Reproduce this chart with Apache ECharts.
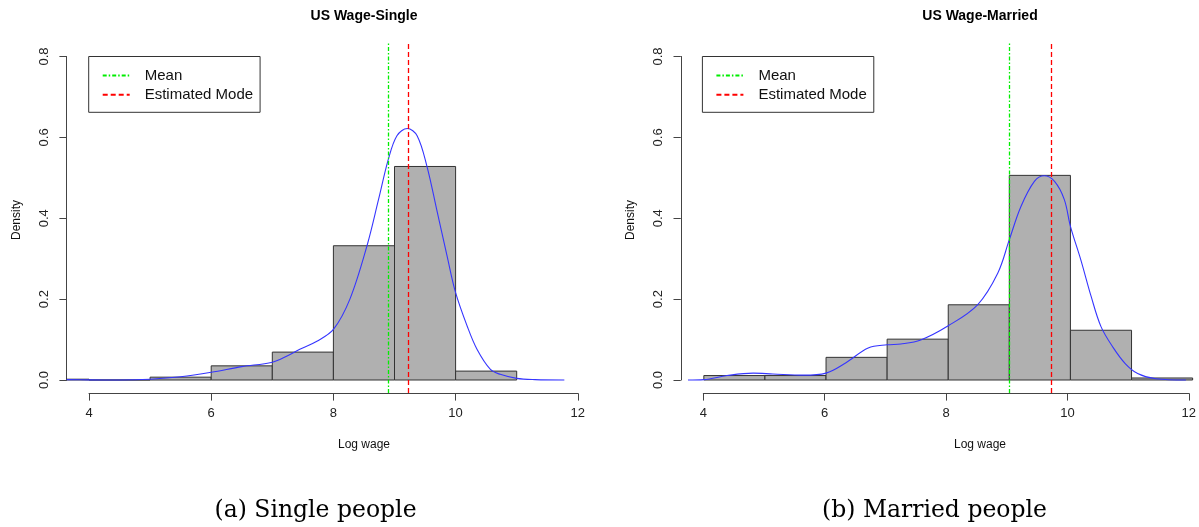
<!DOCTYPE html>
<html><head><meta charset="utf-8">
<script src="https://cdn.jsdelivr.net/npm/echarts@6/dist/echarts.min.js"></script>
<style>html,body{margin:0;padding:0;background:#fff}#c{width:1199px;height:527px}</style>
</head><body><div id="c"></div><script>
// ---- data ----
const binWidth = 1;
const binStartsSingle = [3, 4, 5, 6, 7, 8, 9, 10];
const densitySingle   = [0.002, 0, 0.007, 0.035, 0.069, 0.332, 0.528, 0.022];
const binStartsMarried = [4, 5, 6, 7, 8, 9, 10, 11];
const densityMarried   = [0.011, 0.011, 0.056, 0.101, 0.186, 0.506, 0.123, 0.005];

const kdeSingleX = [3.635, 4.0, 4.5, 5.0, 5.5, 6.0, 6.5, 7.0, 7.25, 7.45, 7.73, 8.0, 8.27, 8.55, 8.74, 8.9, 9.04, 9.21, 9.37, 9.53, 9.69, 9.86, 10.0, 10.19, 10.35, 10.57, 10.73, 11.0, 11.3, 11.78];
const kdeSingleY = [0.001, 0.0003, 0.0, 0.002, 0.008, 0.019, 0.033, 0.044, 0.06, 0.076, 0.096, 0.125, 0.2, 0.332, 0.447, 0.546, 0.604, 0.622, 0.604, 0.529, 0.422, 0.307, 0.216, 0.133, 0.076, 0.026, 0.014, 0.004, 0.001, 0.0];
const kdeMarriedX = [3.74, 4.0, 4.38, 4.81, 5.13, 5.63, 6.0, 6.32, 6.69, 7.0, 7.224, 7.55, 8.0, 8.48, 8.81, 9.0, 9.19, 9.41, 9.57, 9.74, 9.9, 10.0, 10.17, 10.34, 10.5, 10.7, 10.9, 11.1, 11.4, 11.89];
const kdeMarriedY = [0, 0.001, 0.011, 0.017, 0.015, 0.012, 0.017, 0.042, 0.079, 0.087, 0.089, 0.099, 0.134, 0.186, 0.264, 0.347, 0.429, 0.491, 0.505, 0.491, 0.446, 0.38, 0.297, 0.206, 0.132, 0.08, 0.04, 0.016, 0.003, 0];

const meanSingle = 8.90, modeSingle = 9.23;
const meanMarried = 9.0, modeMarried = 9.68;

const titles = ['US Wage-Single', 'US Wage-Married'];
const captions = ['(a) Single people', '(b) Married people'];
const legendNames = ['Mean', 'Estimated Mode'];
const xAxisTitle = 'Log wage';
const yAxisTitle = 'Density';

// ---- layout (pixels) ----
const PX = 61.1;             // pixels per x unit
const PY = 404.4;            // pixels per y unit
const Y0 = 380;              // pixel of density 0
const panels = [
  { axisX: 66.7, xmin: 3.635, xmax: 12.2, tick4: 89, titleX: 364, legendX: 88.7, densX: 16.7, capX: 315.5 },
  { axisX: 680.8, xmin: 3.623, xmax: 12.1, tick4: 703.3, titleX: 980, legendX: 702.4, densX: 630.8, capX: 934.5 }
];
const axisColor = '#444';
const sans = '"Liberation Sans", Arial, sans-serif';

const grids = [], xAxes = [], yAxes = [], series = [], legends = [], graphics = [];

panels.forEach((p, k) => {
  const plotTop = Y0 - 0.832 * PY, plotH = 0.864 * PY;
  grids.push({ left: p.axisX, top: plotTop, width: (p.xmax - p.xmin) * PX, height: plotH });
  xAxes.push({ gridIndex: 3*k, type: 'value', min: p.xmin, max: p.xmax, show: false });
  yAxes.push({ gridIndex: 3*k, type: 'value', min: -0.032, max: 0.832, show: false });
  grids.push({ left: p.tick4, top: Y0, width: 8 * PX, height: 13.3 });
  xAxes.push({ gridIndex: 3*k+1, type: 'value', min: 4, max: 12, interval: 2, position: 'bottom',
    axisLine: { show: true, lineStyle: { color: axisColor, width: 1 } },
    axisTick: { show: true, length: 7.3, lineStyle: { color: axisColor } },
    axisLabel: { show: true, margin: 14, fontSize: 13, fontFamily: sans, color: '#222' },
    splitLine: { show: false } });
  yAxes.push({ gridIndex: 3*k+1, type: 'value', show: false });
  grids.push({ left: p.axisX, top: Y0 - 0.8 * PY, width: 10, height: 0.8 * PY });
  xAxes.push({ gridIndex: 3*k+2, type: 'value', show: false });
  yAxes.push({ gridIndex: 3*k+2, type: 'value', min: 0, max: 0.8, interval: 0.2,
    axisLine: { show: true, lineStyle: { color: axisColor, width: 1 } },
    axisTick: { show: true, length: 7.3, lineStyle: { color: axisColor } },
    axisLabel: { show: true, rotate: 90, margin: 16, fontSize: 13, fontFamily: sans, color: '#222',
      formatter: v => v.toFixed(1) },
    splitLine: { show: false } });
});

function hist(idx, starts, vals) {
  return {
    type: 'custom', xAxisIndex: idx, yAxisIndex: idx, clip: true, silent: true, z: 2,
    data: starts.map((s, i) => [s, s + binWidth, vals[i]]),
    encode: { x: [0, 1], y: 2 },
    renderItem(params, api) {
      const a = api.coord([api.value(0), 0]);
      const b = api.coord([api.value(1), api.value(2)]);
      return { type: 'rect', shape: { x: a[0], y: b[1], width: b[0] - a[0], height: a[1] - b[1] },
        style: { fill: '#b0b0b0', stroke: '#333', lineWidth: 1 } };
    }
  };
}
function kde(idx, xs, ys) {
  return { type: 'line', xAxisIndex: idx, yAxisIndex: idx, data: xs.map((x, i) => [x, ys[i]]),
    smooth: 0.35, symbol: 'none', silent: true, z: 3, lineStyle: { color: '#3535ff', width: 1.1 } };
}
function vline(idx, name, val, color, dash) {
  return { type: 'line', name: name, xAxisIndex: idx, yAxisIndex: idx, data: [], symbol: 'none', z: 4,
    itemStyle: { color: color, opacity: 0 },
    lineStyle: { color: color, type: dash, width: 1.2 },
    markLine: { silent: true, symbol: 'none', label: { show: false },
      lineStyle: { color: color, type: dash, width: 1.3 }, data: [{ xAxis: val }] } };
}
const greenDash = [4, 2, 1.5, 2];
const redDash = [5, 3];
series.push(hist(0, binStartsSingle, densitySingle), kde(0, kdeSingleX, kdeSingleY),
  vline(0, legendNames[0], meanSingle, '#00ee00', greenDash), vline(0, legendNames[1], modeSingle, '#ff0000', redDash));
series.push(hist(3, binStartsMarried, densityMarried), kde(3, kdeMarriedX, kdeMarriedY),
  vline(3, legendNames[0], meanMarried, '#00ee00', greenDash), vline(3, legendNames[1], modeMarried, '#ff0000', redDash));

panels.forEach((p, k) => {
  legends.push({ data: legendNames, orient: 'vertical', left: p.legendX, top: 56.5, selectedMode: false,
    itemWidth: 27, itemHeight: 14, itemGap: 4.3, padding: [11.5, 7, 10, 13],
    itemStyle: { opacity: 0 },
    borderColor: '#333', borderWidth: 1, borderRadius: 0,
    textStyle: { fontSize: 15, fontFamily: sans, color: '#111', lineHeight: 14, padding: [0, 0, 0, 10] } });
  graphics.push(
    { type: 'text', x: p.titleX, y: 16, style: { text: titles[k], font: 'bold 14px ' + sans, fill: '#000', textAlign: 'center', textVerticalAlign: 'middle', align: 'center', verticalAlign: 'middle' } },
    { type: 'text', x: p.titleX, y: 445, style: { text: xAxisTitle, font: '12px ' + sans, fill: '#111', textAlign: 'center', textVerticalAlign: 'middle', align: 'center', verticalAlign: 'middle' } },
    { type: 'text', x: p.densX, y: 220, rotation: Math.PI / 2, style: { text: yAxisTitle, font: '12px ' + sans, fill: '#111', textAlign: 'center', textVerticalAlign: 'middle', align: 'center', verticalAlign: 'middle' } },
    { type: 'text', x: p.capX, y: 511, style: { text: captions[k], font: '23.5px "DejaVu Serif", serif', fill: '#000', textAlign: 'center', textVerticalAlign: 'middle', align: 'center', verticalAlign: 'middle' } }
  );
});

const chart = echarts.init(document.getElementById('c'));
chart.setOption({ animation: false, backgroundColor: '#fff', grid: grids, xAxis: xAxes, yAxis: yAxes,
  series: series, legend: legends, graphic: graphics });
</script></body></html>
